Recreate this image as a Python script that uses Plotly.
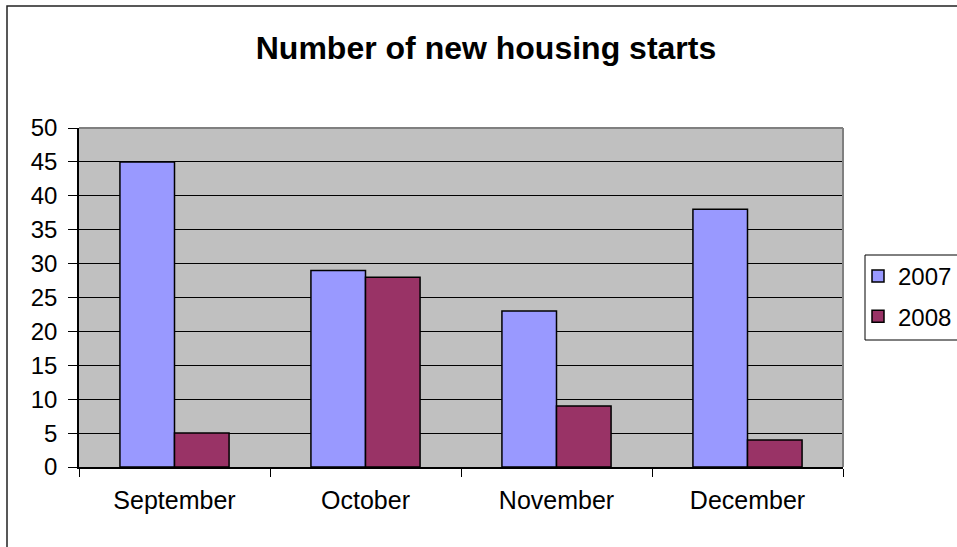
import plotly.graph_objects as go

categories = ["September", "October", "November", "December"]
series_names = ["2007", "2008"]
values_2007 = [45, 29, 23, 38]
values_2008 = [5, 28, 9, 4]
y_ticks = [0, 5, 10, 15, 20, 25, 30, 35, 40, 45, 50]

colors = ["#9999FF", "#993366"]

W, H = 957, 547
L, R, T, B = 79, 843, 128, 467

fig = go.Figure()
for name, vals, col in zip(series_names, [values_2007, values_2008], colors):
    fig.add_trace(go.Bar(
        x=categories, y=vals, name=name, legendgroup=name,
        marker=dict(color=col, line=dict(color="black", width=1.5)),
    ))

pw = R - L
ph = B - T
def px_x(x):
    return (x - L) / pw
def px_y(y):
    return (B - y) / ph

fig.update_layout(
    width=W, height=H,
    margin=dict(l=L, r=W - R, t=T, b=H - B, pad=0, autoexpand=False),
    paper_bgcolor="white",
    plot_bgcolor="#C0C0C0",
    barmode="group",
    bargap=1.5 / 3.5,
    bargroupgap=0,
    font=dict(family="Liberation Sans, Arial, sans-serif", size=24, color="black"),
    title=dict(text="<b>Number of new housing starts</b>", x=486 / W, xref="container",
               xanchor="center", y=1 - 48 / H, yanchor="middle",
               font=dict(size=32, color="black")),
    showlegend=True,
    legend=dict(x=px_x(858), y=px_y(254), xanchor="left", yanchor="top",
                borderwidth=0, bgcolor="rgba(0,0,0,0)",
                font=dict(size=24), tracegroupgap=6,
                itemclick=False, itemdoubleclick=False),
    xaxis=dict(showline=True, linecolor="black", linewidth=1.5,
               ticks="outside", ticklen=8, tickcolor="black",
               tickson="boundaries", showgrid=False, ticklabelstandoff=10,
               tickfont=dict(size=25), fixedrange=True),
    yaxis=dict(range=[0, 50], tickvals=y_ticks, showline=True, linecolor="black",
               linewidth=1.5, ticks="outside", ticklen=9, tickcolor="black",
               showgrid=True, gridcolor="black", gridwidth=1, ticklabelstandoff=6,
               zeroline=False, tickfont=dict(size=24), fixedrange=True),
    shapes=[
        dict(type="line", xref="paper", yref="paper", x0=0, x1=1, y0=1, y1=1,
             line=dict(color="#808080", width=2)),
        dict(type="line", xref="paper", yref="paper", x0=1, x1=1, y0=0, y1=1,
             line=dict(color="#808080", width=2)),
        dict(type="rect", xref="paper", yref="paper",
             x0=px_x(7), x1=px_x(W + 20), y0=px_y(H + 20), y1=px_y(6),
             line=dict(color="#222222", width=1.5), fillcolor="rgba(0,0,0,0)"),
        dict(type="rect", xref="paper", yref="paper",
             x0=px_x(865), x1=px_x(W + 20), y0=px_y(340), y1=px_y(255),
             line=dict(color="black", width=1), fillcolor="rgba(0,0,0,0)"),
    ],
)

fig.write_html("out.html", config={"displayModeBar": False},
               post_script="document.body.style.margin='0';")
